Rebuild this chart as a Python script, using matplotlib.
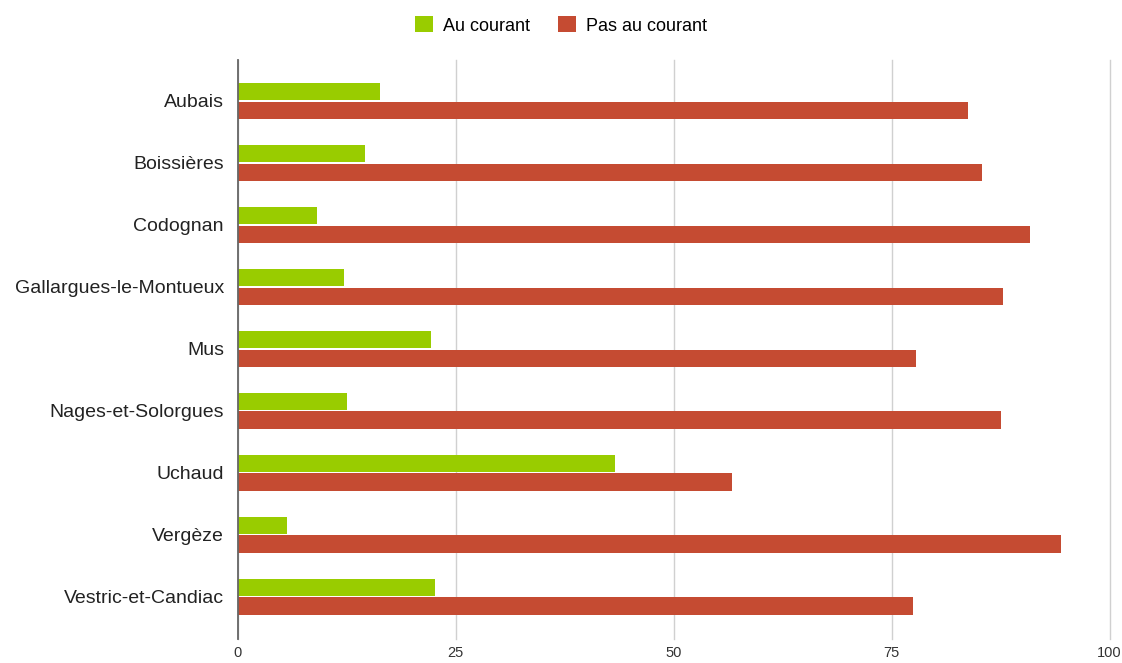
import matplotlib
matplotlib.use('Agg')
import matplotlib.pyplot as plt
import numpy as np

# Data
communes = ['Aubais', 'Boissières', 'Codognan', 'Gallargues-le-Montueux',
            'Mus', 'Nages-et-Solorgues', 'Uchaud', 'Vergèze',
            'Vestric-et-Candiac']
au_courant = [16.3, 14.6, 9.1, 12.2, 22.2, 12.5, 43.3, 5.6, 22.6]
pas_au_courant = [83.7, 85.4, 90.9, 87.8, 77.8, 87.5, 56.7, 94.4, 77.4]
xticks = [0, 25, 50, 75, 100]

plt.rcParams['font.family'] = ['Liberation Sans', 'DejaVu Sans']

fig = plt.figure(figsize=(11.22, 6.63), dpi=100)
ax = fig.add_axes([0.212, 0.0362, 0.777, 0.8733])

y = np.arange(len(communes))
h = 0.28
ax.barh(y - 0.15, au_courant, height=h, color='#99cc00', label='Au courant')
ax.barh(y + 0.15, pas_au_courant, height=h, color='#c54b32',
        label='Pas au courant')

ax.set_xlim(0, 100)
ax.set_ylim(8.68, -0.66)
ax.set_xticks(xticks)
ax.set_yticks(y)
ax.set_yticklabels(communes, fontsize=14, color='#222222')
ax.tick_params(axis='x', labelsize=10.5, colors='#333333', length=0, pad=5)
ax.tick_params(axis='y', length=0, pad=10)

ax.grid(axis='x', color='#d0d0d0', linewidth=1)
for gl in ax.get_xgridlines():
    gl.set_clip_on(False)
ax.set_axisbelow(True)
for s in ['top', 'right', 'bottom']:
    ax.spines[s].set_visible(False)
ax.spines['left'].set_color('#666666')
ax.spines['left'].set_linewidth(1.3)
ax.spines['left'].set_zorder(5)

fig.legend(loc='upper center', bbox_to_anchor=(0.5, 1.0), ncol=2,
           frameon=False, fontsize=13, handlelength=1.0, handleheight=1.0,
           columnspacing=1.5, handletextpad=0.6)

fig.savefig('out.png', dpi=100)
